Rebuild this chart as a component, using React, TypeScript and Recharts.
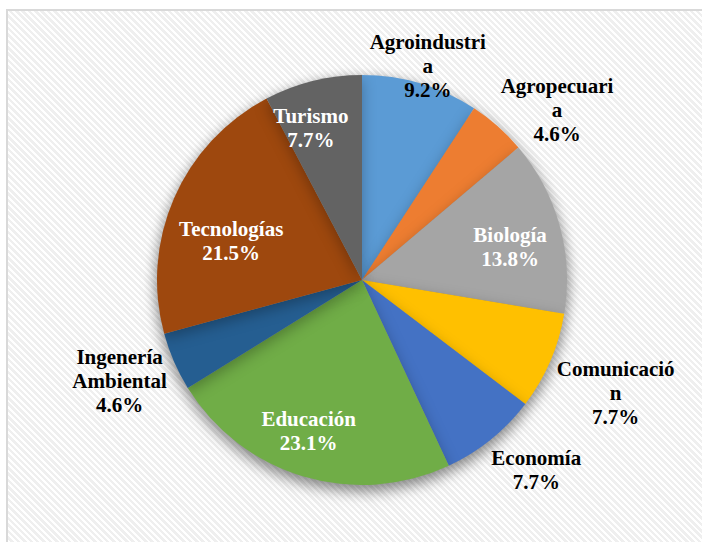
import { PieChart, Pie, Cell } from 'recharts';

const categories = [
  'Agroindustria',
  'Agropecuaria',
  'Biología',
  'Comunicación',
  'Economía',
  'Educación',
  'Ingenería Ambiental',
  'Tecnologías',
  'Turismo',
];

const shares = [9.2, 4.6, 13.8, 7.7, 7.7, 23.1, 4.6, 21.5, 7.7];

// how Excel wrapped each category name in the label box
const labelLines = [
  ['Agroindustri', 'a'],
  ['Agropecuari', 'a'],
  ['Biología'],
  ['Comunicació', 'n'],
  ['Economía'],
  ['Educación'],
  ['Ingenería', 'Ambiental'],
  ['Tecnologías'],
  ['Turismo'],
];

const colors = ['#5B9BD5', '#ED7D31', '#A5A5A5', '#FFC000', '#4472C4', '#70AD47', '#255E91', '#9E480E', '#636363'];

// label placement: radius as a fraction of the pie radius, and angle nudge in degrees
const labelRadius = [1.093, 1.262, 0.74, 1.354, 1.258, 0.78, 1.281, 0.666, 0.783];
const labelShift = [-0.5, -7.5, -2.9, -0.6, 3.6, -2.9, -0.9, 6.8, 4.7];
const insideLabel = [false, false, true, false, false, true, false, true, true];

const data = categories.map((name, i) => ({ name, value: shares[i] }));

const RAD = Math.PI / 180;
const LINE = 24;
const SERIF = 'Liberation Serif, Times New Roman, serif';

function renderLabel(props: any) {
  const { cx, cy, midAngle, outerRadius, index } = props;
  const angle = (midAngle + labelShift[index]) * RAD;
  const r = outerRadius * labelRadius[index];
  const x = cx + r * Math.cos(angle);
  const y = cy - r * Math.sin(angle);
  const lines = [...labelLines[index], `${shares[index].toFixed(1)}%`];
  const top = y - ((lines.length - 1) * LINE) / 2;
  return (
    <text
      key={`lbl-${index}`}
      x={x}
      y={top}
      textAnchor="middle"
      fill={insideLabel[index] ? '#ffffff' : '#000000'}
      fontFamily={SERIF}
      fontWeight={700}
      fontSize={21}
    >
      {lines.map((t, i) => (
        <tspan key={i} x={x} y={top + i * LINE} dy="0.34em">
          {t}
        </tspan>
      ))}
    </text>
  );
}

export default function App() {
  return (
    <div
      style={{
        position: 'absolute',
        left: 0,
        top: 0,
        width: 702,
        height: 542,
        overflow: 'hidden',
        background: '#ffffff',
      }}
    >
      <style>{'.pie-shadow { filter: drop-shadow(0px 5px 7px rgba(0,0,0,0.28)); }'}</style>
      <div
        style={{
          position: 'absolute',
          left: 6,
          top: 9,
          width: 710,
          height: 550,
          border: '2px solid #d9d9d9',
          background: 'repeating-linear-gradient(45deg, #ffffff 0px, #ffffff 2px, #efefef 2px, #efefef 4.5px)',
        }}
      />
      <div style={{ position: 'absolute', left: 0, top: 0 }}>
        <PieChart width={702} height={542} margin={{ top: 0, right: 0, bottom: 0, left: 0 }}>
          <Pie
            className="pie-shadow"
            data={data}
            dataKey="value"
            nameKey="name"
            cx={362}
            cy={280}
            outerRadius={205}
            startAngle={90}
            endAngle={-270}
            stroke="none"
            label={false}
            labelLine={false}
            isAnimationActive={false}
          >
            {data.map((d, i) => (
              <Cell key={d.name} fill={colors[i]} />
            ))}
          </Pie>
          <Pie
            data={data}
            dataKey="value"
            nameKey="name"
            cx={362}
            cy={280}
            outerRadius={205}
            startAngle={90}
            endAngle={-270}
            fill="none"
            stroke="none"
            label={renderLabel}
            labelLine={false}
            isAnimationActive={false}
          />
        </PieChart>
      </div>
    </div>
  );
}
